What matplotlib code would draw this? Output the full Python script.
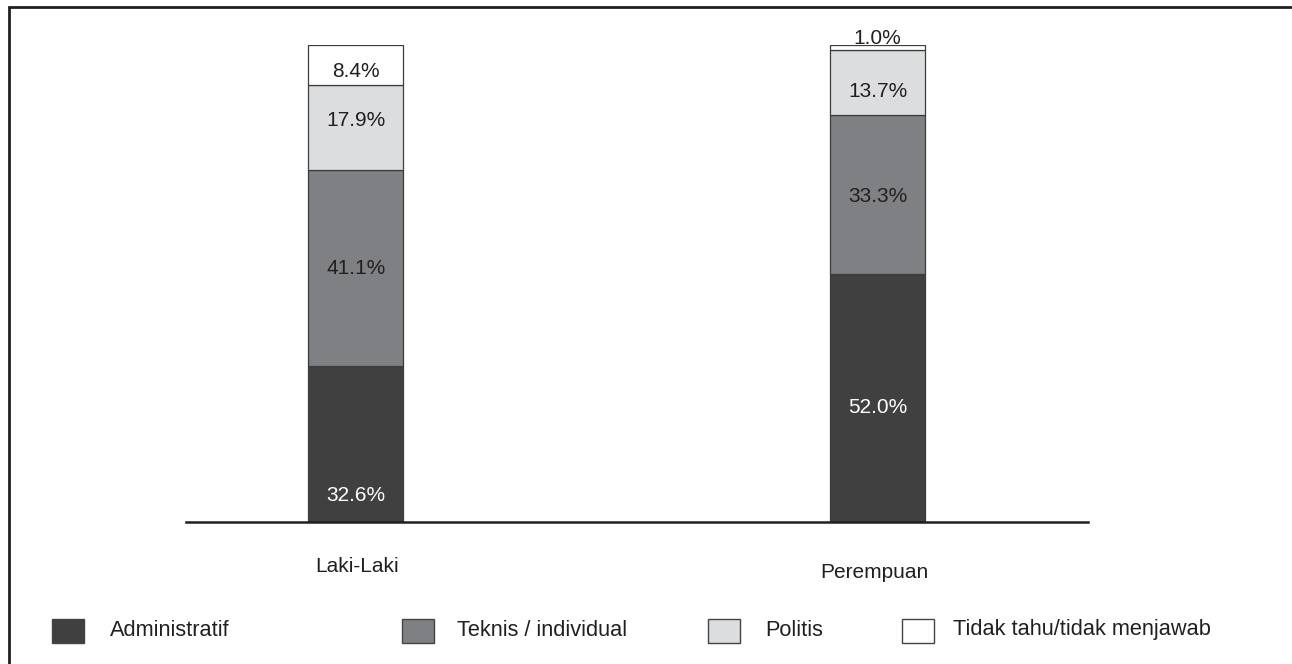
import numpy as np
import matplotlib.pyplot as plt
from matplotlib.patches import Rectangle

plt.rcParams['font.family'] = ['Liberation Sans', 'DejaVu Sans']

# data
groups = ['Laki-Laki', 'Perempuan']
series = ['Administratif', 'Teknis / individual', 'Politis', 'Tidak tahu/tidak menjawab']
administratif = [32.6, 52.0]
teknis = [41.1, 33.3]
politis = [17.9, 13.7]
tidak_tahu = [8.4, 1.0]

values = [administratif, teknis, politis, tidak_tahu]
colors = ['#404040', '#7f8083', '#dcdddf', '#ffffff']
text_colors = ['white', '#231f20', '#231f20', '#231f20']
# label nudges (pixels down from the segment middle), per series then group
label_shift = [[51, 10], [0, 2], [-7, 9], [6, -9]]

W, H = 1292, 664
fig = plt.figure(figsize=(W / 100, H / 100), dpi=100)

# axes placed in pixel terms
left, right, base, top = 186, 1088, 522, 45
ax = fig.add_axes([left / W, (H - base) / H, (right - left) / W, (base - top) / H])

x = np.arange(len(groups))
width = 0.182
bottom = np.zeros(len(groups))
for vals, col, tcol, shifts in zip(values, colors, text_colors, label_shift):
    ax.bar(x, vals, width, bottom=bottom, color=col, edgecolor='#3c3c3c', linewidth=0.9)
    for xi, b, v, s in zip(x, bottom, vals, shifts):
        ax.annotate(f'{v:.1f}%', (xi, b + v / 2), xytext=(0, -s * 0.72), textcoords='offset points',
                    ha='center', va='center', fontsize=15, color=tcol)
    bottom += np.array(vals)

ax.set_xlim(-0.325, 1.403)
ax.set_ylim(0, 100)
for s in ['top', 'right', 'left']:
    ax.spines[s].set_visible(False)
ax.spines['bottom'].set_linewidth(1.8)
ax.spines['bottom'].set_color('#231f20')
ax.set_xticks([])
ax.set_yticks([])

# category labels
label_pos = [(357, 567), (874, 572)]
for g, (px, py) in zip(groups, label_pos):
    fig.text(px / W, 1 - py / H, g, ha='center', va='center', fontsize=15, color='#231f20')

# legend
leg_x = [52, 402, 708, 902]
txt_x = [110, 457, 765, 953]
for name, col, sx, tx in zip(series, colors, leg_x, txt_x):
    fig.patches.append(Rectangle((sx / W, 1 - 643 / H), 32 / W, 24 / H, transform=fig.transFigure,
                                 facecolor=col, edgecolor='#444444', linewidth=1))
    fig.text(tx / W, 1 - 630 / H, name, ha='left', va='center', fontsize=15.7, color='#231f20')

# outer frame (top and left edges)
fig.patches.append(Rectangle((8.5 / W, -0.1), 1.2, 1.1 - 7.5 / H, transform=fig.transFigure,
                             fill=False, edgecolor='#231f20', linewidth=2))

fig.savefig('out.png', dpi=100)
